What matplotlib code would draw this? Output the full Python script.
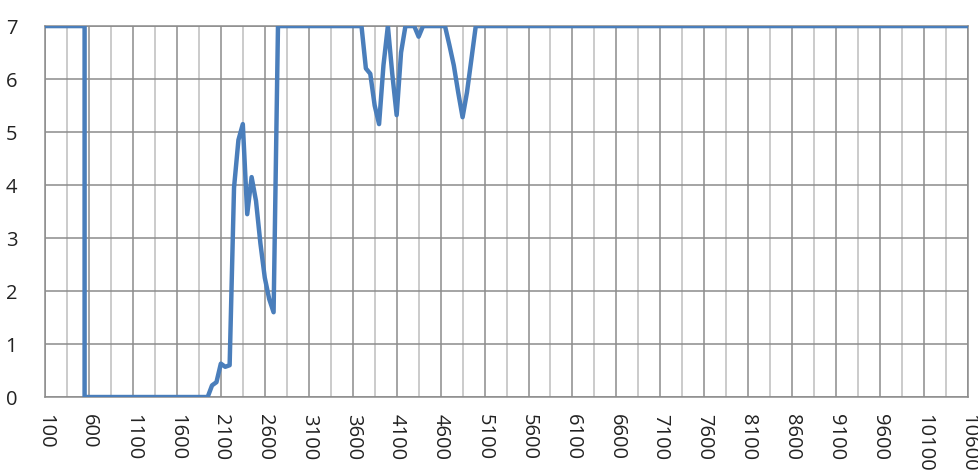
import matplotlib
matplotlib.use("Agg")
import matplotlib.pyplot as plt

# ---- data ----
x_vals = [100, 550, 550, 1950, 2000, 2050, 2100, 2150, 2200, 2250, 2300, 2350,
          2400, 2450, 2500, 2550, 2600, 2650, 2700, 2750, 3700, 3750, 3800,
          3850, 3900, 3950, 4000, 4050, 4100, 4150, 4200, 4250, 4300, 4350,
          4400, 4650, 4700, 4750, 4800, 4850, 4900, 4950, 5000, 10600]
y_vals = [7, 7, 0, 0, 0.22, 0.28, 0.63, 0.57, 0.6, 3.95, 4.85, 5.15,
          3.45, 4.15, 3.7, 2.9, 2.25, 1.85, 1.6, 7, 7, 6.2, 6.1,
          5.5, 5.15, 6.26, 7, 6.1, 5.32, 6.5, 7, 7, 7, 6.8,
          7, 7, 6.64, 6.26, 5.75, 5.28, 5.75, 6.37, 7, 7]

x_ticks = [100, 600, 1100, 1600, 2100, 2600, 3100, 3600, 4100, 4600, 5100,
           5600, 6100, 6600, 7100, 7600, 8100, 8600, 9100, 9600, 10100, 10600]
x_minor = [350, 850, 1350, 1850, 2350, 2850, 3350, 3850, 4350, 4850, 5350,
           5850, 6350, 6850, 7350, 7850, 8350, 8850, 9350, 9850, 10350]
y_ticks = [0, 1, 2, 3, 4, 5, 6, 7]

plt.rcParams['font.family'] = ['Open Sans', 'DejaVu Sans']

fig = plt.figure(figsize=(9.79, 4.74), dpi=100)
ax = fig.add_axes([0.046, 0.1624, 0.9428, 0.7826])

ax.plot(x_vals, y_vals, color='#4A7EBB', lw=3.2, solid_joinstyle='round',
        solid_capstyle='round', zorder=3)

ax.set_xlim(100, 10600)
ax.set_ylim(0, 7)
ax.set_xticks(x_ticks)
ax.set_xticklabels([str(t) for t in x_ticks], rotation=270, fontsize=14.5,
                   color='#222222')
ax.set_xticks(x_minor, minor=True)
ax.set_yticks(y_ticks)
ax.set_yticklabels([str(t) for t in y_ticks], fontsize=14.5, color='#222222')

ax.grid(which='major', axis='both', color='#8C8C8C', lw=1.1, zorder=1)
ax.grid(which='minor', axis='x', color='#BDBDBD', lw=1.1, zorder=1)
ax.tick_params(axis='both', which='both', length=0)
ax.tick_params(axis='x', pad=12)
ax.tick_params(axis='y', pad=20)
for s in ax.spines.values():
    s.set_color('#8C8C8C')
    s.set_linewidth(1.1)

fig.savefig('out.png', dpi=100)
